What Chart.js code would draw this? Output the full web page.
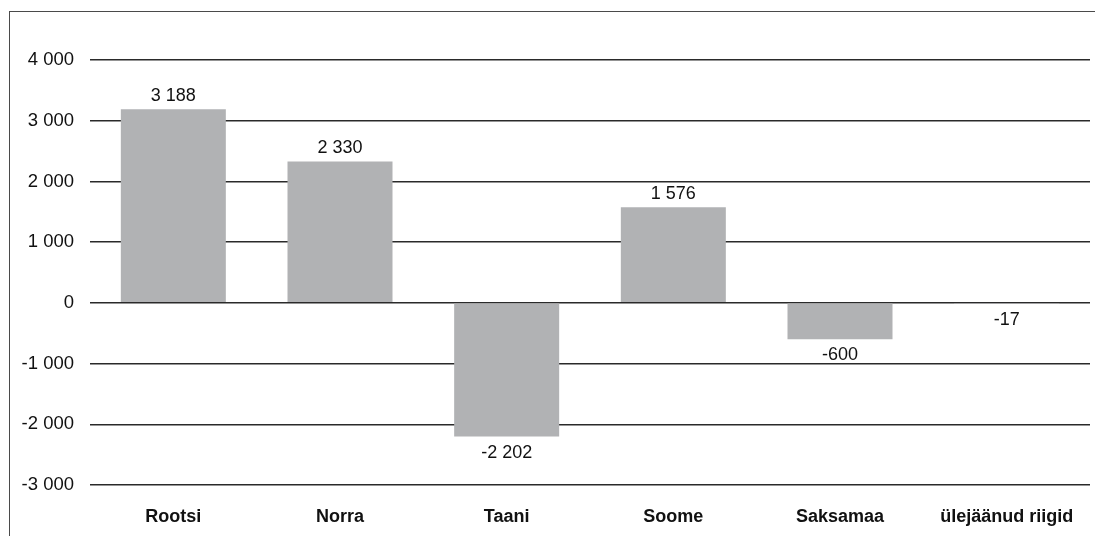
<!DOCTYPE html>
<html>
<head>
<meta charset="utf-8">
<script src="https://cdn.jsdelivr.net/npm/chart.js@4.4.0/dist/chart.umd.min.js"></script>
<style>
    html, body { margin: 0; padding: 0; background: #fff; overflow: hidden; }
    .wrap { position: relative; width: 1095px; height: 536px; }
    .frame { position: absolute; left: 9px; top: 11px; width: 1200px; height: 600px; border: 1.5px solid #4a4a4a; }
    canvas { position: absolute; left: 0; top: 0; }
</style>
</head>
<body>
<div class="wrap">
    <div class="frame"></div>
    <canvas id="chart"></canvas>
</div>
<script>
const countries = ["Rootsi", "Norra", "Taani", "Soome", "Saksamaa", "ülejäänud riigid"];
const balance = [3188, 2330, -2202, 1576, -600, -17];
const yTicks = [-3000, -2000, -1000, 0, 1000, 2000, 3000, 4000];

function fmt(n) {
    return Math.round(n).toLocaleString('en-US').replace(/,/g, ' ');
}

const valueLabels = {
    id: 'valueLabels',
    afterDatasetsDraw(chart) {
        const ctx = chart.ctx;
        const meta = chart.getDatasetMeta(0);
        ctx.save();
        ctx.font = '18px "Liberation Sans", Arial, sans-serif';
        ctx.fillStyle = '#111';
        ctx.textAlign = 'center';
        ctx.textBaseline = 'middle';
        meta.data.forEach(function (bar, i) {
            const v = balance[i];
            const y = v >= 0 ? bar.y - 13 : bar.y + 16;
            ctx.fillText(fmt(v), bar.x, y);
        });
        ctx.restore();
    }
};

const ctx = document.getElementById('chart').getContext('2d');
new Chart(ctx, {
    type: 'bar',
    data: {
        labels: countries,
        datasets: [{
            data: balance,
            backgroundColor: '#b1b2b4',
            borderWidth: 0,
            categoryPercentage: 0.63,
            barPercentage: 1.0
        }]
    },
    options: {
        responsive: true,
        maintainAspectRatio: false,
        animation: false,
        layout: { padding: { top: 60, right: 5, left: 0, bottom: 0 } },
        plugins: { legend: { display: false }, tooltip: { enabled: false } },
        scales: {
            x: {
                grid: { display: false, drawTicks: false },
                border: { display: false },
                ticks: {
                    color: '#111',
                    padding: 21,
                    font: { family: '"Liberation Sans", Arial, sans-serif', size: 18, weight: 'bold' }
                },
                afterFit(scale) { scale.height = 51; }
            },
            y: {
                min: -3000,
                max: 4000,
                afterBuildTicks(scale) { scale.ticks = yTicks.map(v => ({ value: v })); },
                grid: { color: '#2a2a2a', lineWidth: 1.5, drawTicks: false },
                border: { display: false },
                ticks: {
                    color: '#111',
                    padding: 16,
                    font: { family: '"Liberation Sans", Arial, sans-serif', size: 18.5 },
                    callback: v => fmt(v)
                },
                afterFit(scale) { scale.width = 90; }
            }
        }
    },
    plugins: [valueLabels]
});
</script>
</body>
</html>
